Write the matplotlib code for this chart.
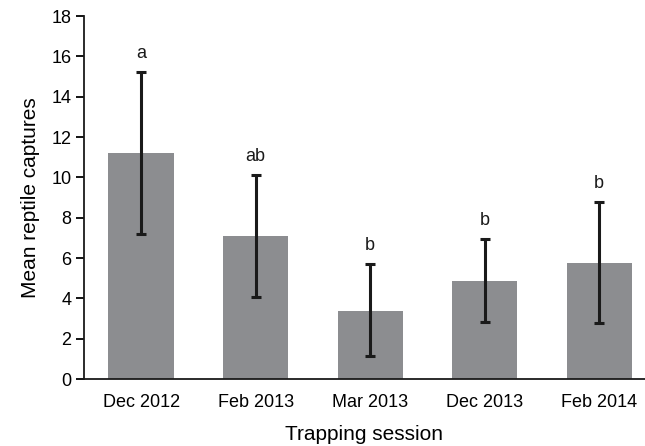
import numpy as np
import matplotlib
matplotlib.use("Agg")
import matplotlib.pyplot as plt

plt.rcParams['font.family'] = ['Liberation Sans', 'DejaVu Sans']

sessions = ["Dec 2012", "Feb 2013", "Mar 2013", "Dec 2013", "Feb 2014"]
means = [11.2, 7.1, 3.4, 4.87, 5.76]
err_upper = [15.23, 10.13, 5.7, 6.95, 8.78]
err_lower = [7.17, 4.08, 1.16, 2.81, 2.77]
letters = ["a", "ab", "b", "b", "b"]

x = np.arange(len(sessions))
means = np.array(means)
yerr = [means - np.array(err_lower), np.array(err_upper) - means]

fig = plt.figure(figsize=(6.45, 4.46), dpi=100)
ax = fig.add_axes([0.130, 0.150, 0.870, 0.814])

ax.bar(x, means, width=0.57, color="#8c8d90", zorder=1)
ax.errorbar(x, means, yerr=yerr, fmt="none", ecolor="#1a1a1a",
            elinewidth=2.2, capsize=3.8, capthick=2.2, zorder=2)

for xi, top, lab in zip(x, err_upper, letters):
    ax.annotate(lab, (xi, top), xytext=(0, 7), textcoords="offset points",
                ha="center", va="bottom", fontsize=13, color="#1a1a1a")

ax.set_xlim(-0.5, 4.4)
ax.set_ylim(0, 18)
ax.set_yticks(np.arange(0, 19, 2))
ax.set_xticks(x)
ax.set_xticklabels(sessions)
ax.tick_params(axis="x", length=0, pad=11, labelsize=13)
ax.tick_params(axis="y", length=6, width=1.3, labelsize=13, pad=3, direction="out")
ax.spines["top"].set_visible(False)
ax.spines["right"].set_visible(False)
for s in ("left", "bottom"):
    ax.spines[s].set_linewidth(1.3)
    ax.spines[s].set_color("#1a1a1a")

ax.set_ylabel("Mean reptile captures", fontsize=15, labelpad=8)
ax.set_xlabel("Trapping session", fontsize=15, labelpad=10)

fig.savefig("out.png", dpi=100)
